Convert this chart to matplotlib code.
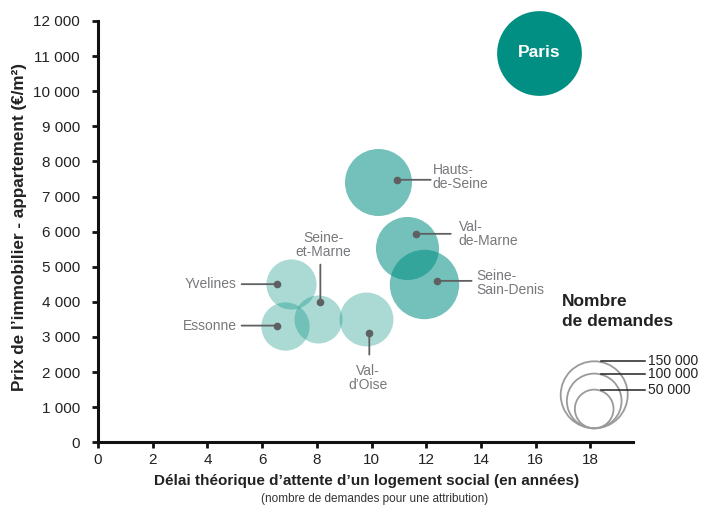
import numpy as np
import matplotlib
matplotlib.use("Agg")
import matplotlib.pyplot as plt
from matplotlib.ticker import FuncFormatter
from matplotlib.patches import Circle

plt.rcParams['font.family'] = ['Liberation Sans', 'DejaVu Sans']

# ---- data ----
departements = ["Paris", "Hauts-\nde-Seine", "Val-\nde-Marne", "Seine-\nSain-Denis",
                "Yvelines", "Essonne", "Seine-\net-Marne", "Val-\nd’Oise"]
delai = [16.14, 10.23, 11.29, 11.91, 7.07, 6.84, 8.04, 9.80]          # années
prix = [11100, 7410, 5530, 4520, 4500, 3320, 3520, 3520]              # €/m²
demandes = [240000, 150000, 133000, 161000, 84000, 78000, 77000, 97000]
groupe = [0, 1, 1, 1, 2, 2, 2, 2]   # shade level
legend_values = [150000, 100000, 50000]
legend_labels = ["150 000", "100 000", "50 000"]
xticks = list(range(0, 19, 2))
yticks = list(range(0, 12001, 1000))

# label anchor (dot) positions and text offsets (px)
anchors = {
    "Hauts-\nde-Seine": (10.92, 7477, (34, 0), (36, 3), "left"),
    "Val-\nde-Marne": (11.62, 5938, (35, 0), (43, 0), "left"),
    "Seine-\nSain-Denis": (12.38, 4598, (35, 0), (40, -2), "left"),
    "Yvelines": (6.53, 4504, (-35, 0), (-40, 0), "right"),
    "Essonne": (6.53, 3324, (-35, 0), (-40, 0), "right"),
    "Seine-\net-Marne": (8.13, 4008, (0, 37), (3, 57), "center"),
    "Val-\nd’Oise": (9.92, 3124, (0, -22), (-1, -45), "center"),
}

# ---- figure ----
W, H, DPI = 723, 509, 100
fig = plt.figure(figsize=(W / DPI, H / DPI), dpi=DPI)
ax = fig.add_axes([98 / W, (H - 442.3) / H, (633 - 98) / W, (442.3 - 21) / H])

teal = (0 / 255, 143 / 255, 130 / 255)
alphas = {0: 1.0, 1: 0.55, 2: 0.33}
R150 = 33.5  # px radius for 150 000

def radius_px(n):
    return R150 * np.sqrt(n / 150000)

px2pt = 72 / DPI
for name, x, y, n, g in zip(departements, delai, prix, demandes, groupe):
    s = (2 * radius_px(n) * px2pt) ** 2
    ax.scatter([x], [y], s=s, color=teal, alpha=alphas[g], linewidths=0, zorder=2,
               clip_on=False)

ax.text(delai[0], prix[0], "Paris", color="white", fontsize=12.5, fontweight="bold",
        ha="center", va="center", zorder=5)

label_color = "#77787b"
dot_color = "#5f6062"
for name, (ax_x, ax_y, lend, toff, ha) in anchors.items():
    ax.annotate("", xy=(ax_x, ax_y), xytext=(lend[0] * px2pt, lend[1] * px2pt),
                textcoords="offset points",
                arrowprops=dict(arrowstyle="-", color=dot_color, lw=1.3,
                                shrinkA=0, shrinkB=0), zorder=4)
    ax.plot([ax_x], [ax_y], "o", color=dot_color, markersize=4.5, zorder=5)
    ax.annotate(name, xy=(ax_x, ax_y), xytext=(toff[0] * px2pt, toff[1] * px2pt),
                textcoords="offset points", ha=ha, va="center", fontsize=10,
                color=label_color, linespacing=1.0, zorder=5)

ax.set_xlim(0, (633 - 98) / 27.35)
ax.set_ylim(0, 12000)
ax.set_xticks(xticks)
ax.set_yticks(yticks)
fmt = FuncFormatter(lambda v, p: f"{int(v):,}".replace(",", " "))
ax.yaxis.set_major_formatter(fmt)
ax.tick_params(axis="both", labelsize=11, width=2, length=4, color="#111111",
               labelcolor="#222222")
ax.tick_params(axis="y", pad=9)
ax.tick_params(axis="x", pad=4)
for side in ["top", "right"]:
    ax.spines[side].set_visible(False)
for side in ["left", "bottom"]:
    ax.spines[side].set_linewidth(2.2)
    ax.spines[side].set_color("#111111")

fig.text(20 / W, 1 - 227 / H, "Prix de l’immobilier - appartement (€/m²)", rotation=90,
         ha="center", va="center", fontsize=12.3, fontweight="bold", color="#222222")
fig.text(367 / W, 1 - 481 / H, "Délai théorique d’attente d’un logement social (en années)",
         ha="center", va="center", fontsize=11, fontweight="bold", color="#222222")
fig.text(375 / W, 1 - 499 / H, "(nombre de demandes pour une attribution)",
         ha="center", va="center", fontsize=8.5, color="#333333")

# ---- size legend ----
fig.text(562 / W, 1 - 294 / H, "Nombre\nde demandes", ha="left", va="top",
         fontsize=12.5, fontweight="bold", color="#222222", linespacing=1.4)
cx, by = 594.2, 428.3
tr = fig.dpi_scale_trans
for v, lab in zip(legend_values, legend_labels):
    r = radius_px(v)
    c = Circle((cx / DPI, (H - (by - r)) / DPI), r / DPI, transform=tr,
               fill=False, edgecolor="#9a9a9a", lw=1.3)
    fig.add_artist(c)
    ytop = by - 2 * r
    fig.add_artist(plt.Line2D([(cx + 7) / DPI, 645 / DPI], [(H - ytop) / DPI] * 2,
                              transform=tr, color="#222222", lw=1.1))
    fig.text(648 / W, 1 - ytop / H, lab, ha="left", va="center", fontsize=10,
             color="#222222")

fig.savefig("out.png", dpi=DPI)
